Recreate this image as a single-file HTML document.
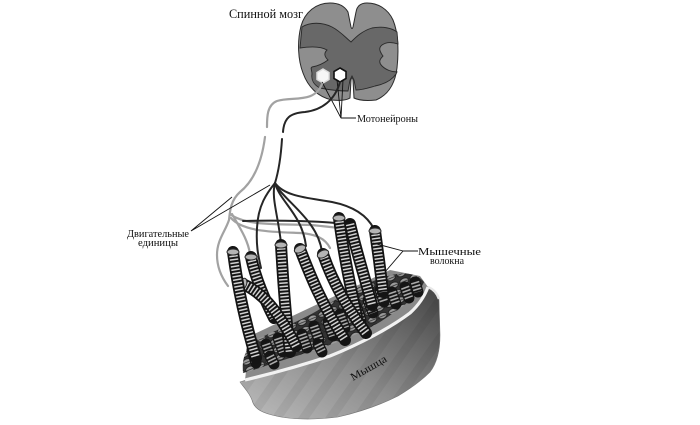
<!DOCTYPE html>
<html><head><meta charset="utf-8"><style>
html,body{margin:0;padding:0;background:#fff;}
svg{display:block;}
.t{font-family:"Liberation Serif","Noto Serif CJK SC",serif;fill:#111;}
.nd{stroke:#262626;stroke-width:2;fill:none;stroke-linecap:round;}
.nl{stroke:#a2a2a2;stroke-width:2.2;fill:none;stroke-linecap:round;}
.lb{stroke:#111;stroke-width:0.9;fill:none;}
.b{stroke:#141414;stroke-width:12;fill:none;stroke-linecap:round;}
.s{stroke:#d2d2d2;stroke-width:8.5;fill:none;stroke-dasharray:1.5 1.9;}
.sb{stroke:#151515;stroke-width:11;fill:none;stroke-linecap:round;}
.ss{stroke:#a9a9a9;stroke-width:8.5;fill:none;stroke-dasharray:1.6 1.8;}
.cap{fill:#b4b4b4;stroke:#2a2a2a;stroke-width:1;}
</style></head><body>
<svg width="700" height="425" viewBox="0 0 700 425" xmlns="http://www.w3.org/2000/svg">
<defs>
<linearGradient id="bg" x1="0.05" y1="0.95" x2="0.95" y2="0.05">
<stop offset="0" stop-color="#b8b8b8"/><stop offset="0.45" stop-color="#8e8e8e"/><stop offset="1" stop-color="#4a4a4a"/>
</linearGradient>
<pattern id="wave" width="22" height="22" patternUnits="userSpaceOnUse" patternTransform="rotate(35)">
<rect width="22" height="22" fill="none"/><rect x="0" y="0" width="9" height="22" fill="#000" opacity="0.06"/>
</pattern>
<pattern id="disc" width="11" height="8" patternUnits="userSpaceOnUse" patternTransform="rotate(-22)">
<rect width="11" height="8" fill="#333"/>
<ellipse cx="5.5" cy="4" rx="4.7" ry="2.9" fill="#9c9c9c" stroke="#1a1a1a" stroke-width="0.9"/>
<line x1="1.5" y1="4.3" x2="9.5" y2="4.3" stroke="#2a2a2a" stroke-width="0.8"/>
</pattern>
</defs>

<!-- Spinal cord -->
<path d="M348,12 C344,5 337,3 330,3 C316,3 305,12 301,26 C297,42 298,60 303,73 C308,87 318,97 332,100 C340,101 347,100 350,98 L351,80 Q352,76 353,80 L354,98 C358,100 366,101 376,100 C388,95 395,84 397,68 C399,50 398,32 393,20 C388,9 378,3 367,3 C361,3 357,6 356,12 L353,27 Q352,30 351,27 Z" fill="#8e8e8e" stroke="#2a2a2a" stroke-width="1"/>
<path d="M302,27 C310,22 322,22 332,27 C340,31 346,38 351,42 C356,37 362,31 372,28 C382,26 392,28 397,32 L398,44 C392,42 386,42 382,45 C378,48 380,52 383,56 C380,59 378,62 382,66 C386,70 392,72 397,72 L396,74 C392,80 385,84 375,86 C368,88 362,90 356,90 L354,80 L352,76 L350,80 L348,91 C340,91 330,90 320,88 C314,85 311,80 312,74 C312,70 310,68 312,67 C318,66 324,63 328,60 C324,56 324,53 327,50 C322,47 313,46 300,48 Z" fill="#686868" stroke="#2a2a2a" stroke-width="0.9"/>
<polygon points="323,69 329,72.5 329,79.5 323,83 317,79.5 317,72.5" fill="#f6f6f6" stroke="#ddd" stroke-width="1.5"/>
<polygon points="340,68 346,71.5 346,78.5 340,82 334,78.5 334,71.5" fill="#fff" stroke="#111" stroke-width="1.6"/>

<text class="t" x="229" y="18" font-size="13" textLength="74" lengthAdjust="spacingAndGlyphs">Спинной мозг</text>

<!-- Motoneuron label lines -->
<path class="lb" d="M322,82 L341,118 L337,80 M341,118 L343,80 M341,118 L356,118"/>
<text class="t" x="357" y="122" font-size="11" textLength="61" lengthAdjust="spacingAndGlyphs">Мотонейроны</text>

<!-- Muscle block -->
<path d="M240,382 C262,375 300,366 332,355 C365,342 395,325 412,310 C420,302 424,293 428,287 C434,289 438,293 439,300 L440,335 C440,350 437,363 430,372 C420,382 408,390 398,396 C380,405 360,412 338,417 C315,420 290,420 272,415 C260,412 254,408 252,400 C249,392 244,388 240,382 Z" fill="url(#bg)" stroke="#777" stroke-width="0.6"/>
<path d="M240,382 C262,375 300,366 332,355 C365,342 395,325 412,310 C420,302 424,293 428,287 C434,289 438,293 439,300 L440,335 C440,350 437,363 430,372 C420,382 408,390 398,396 C380,405 360,412 338,417 C315,420 290,420 272,415 C260,412 254,408 252,400 C249,392 244,388 240,382 Z" fill="url(#wave)"/>
<!-- top surface -->
<path d="M245,380 C270,374 300,366 330,356 C360,344 390,328 410,313 C420,304 425,295 428,287 L420,276 L390,270 L250,336 Z" fill="#8a8a8a"/>
<!-- white rim -->
<path d="M245,380 C270,374 300,366 330,356 C360,344 390,328 410,313 C420,304 425,295 428,287" fill="none" stroke="#f2f2f2" stroke-width="3.2"/>
<path d="M428,287 C433,289 437,293 439,299" fill="none" stroke="#e8e8e8" stroke-width="2.5"/>
<!-- disc bed -->
<path d="M243,373 C242,360 244,350 256,340 C275,330 300,322 325,306 C345,294 365,283 388,276 C402,272 416,272 424,282 C418,296 402,308 380,322 C355,337 320,349 290,358 C270,364 255,370 243,373 Z" fill="url(#disc)"/>
<!-- stubs -->
<g>
<path class="sb" d="M415,282 l3,10"/><path class="ss" d="M415,282 l3,10"/>
<path class="sb" d="M405,287 l4,11"/><path class="ss" d="M405,287 l4,11"/>
<path class="sb" d="M392,292 l4,12"/><path class="ss" d="M392,292 l4,12"/>
<path class="sb" d="M380,290 l4,12"/><path class="ss" d="M380,290 l4,12"/>
<path class="sb" d="M368,300 l5,13"/><path class="ss" d="M368,300 l5,13"/>
<path class="sb" d="M356,306 l5,14"/><path class="ss" d="M356,306 l5,14"/>
<path class="sb" d="M340,314 l5,14"/><path class="ss" d="M340,314 l5,14"/>
<path class="sb" d="M328,322 l5,14"/><path class="ss" d="M328,322 l5,14"/>
<path class="sb" d="M314,326 l5,14"/><path class="ss" d="M314,326 l5,14"/>
<path class="sb" d="M302,334 l5,14"/><path class="ss" d="M302,334 l5,14"/>
<path class="sb" d="M278,338 l5,14"/><path class="ss" d="M278,338 l5,14"/>
<path class="sb" d="M266,344 l5,14"/><path class="ss" d="M266,344 l5,14"/>
<path class="sb" d="M252,350 l4,13"/><path class="ss" d="M252,350 l4,13"/>
<path class="sb" d="M270,356 l4,8"/><path class="ss" d="M270,356 l4,8"/>
<path class="sb" d="M318,344 l4,8"/><path class="ss" d="M318,344 l4,8"/>
</g>

<!-- Nerves -->
<path class="nl" d="M322,84 C314,104 292,96 277,101 C267,105 267,117 267,127"/>
<path class="nl" d="M265,137 C262,160 255,180 240,192 C231,200 230,210 229,220 C225,232 217,240 217,255 C217,268 222,278 228,286"/>
<path class="nl" d="M230,214 C245,226 280,224 310,225 C322,226 332,227 338,228"/>
<path class="nl" d="M231,218 C243,232 275,232 300,233 C315,234 325,238 330,248"/>
<path class="nl" d="M232,214 C240,228 248,240 250,254"/>
<path class="nd" d="M340,82 C335,100 322,110 305,112 C290,113 284,118 283,132"/>
<path class="nd" d="M282,139 C281,155 279,170 275,183"/>
<path class="nd" d="M275,183 C267,193 258,205 257,228 C256,245 258,255 261,268"/>
<path class="nd" d="M275,183 C271,197 278,215 281,243"/>
<path class="nd" d="M275,183 C280,202 302,214 306,246"/>
<path class="nd" d="M275,183 C285,197 310,198 332,202 C352,206 367,215 374,229"/>
<path class="nd" d="M276,186 C290,205 318,222 322,252"/>
<path class="nd" d="M243,221 C280,220 320,221 345,224"/>

<!-- Fibers (back to front) -->
<g>
<path class="b" d="M375,231 L379,260 L383,292"/><path class="s" d="M375,231 L379,260 L383,292"/>
<ellipse class="cap" cx="375" cy="231" rx="6" ry="3"/>
<path class="b" d="M350,224 C356,250 364,275 372,305"/><path class="s" d="M350,224 C356,250 364,275 372,305"/>
<path class="b" d="M339,218 C343,250 349,280 358,322"/><path class="s" d="M339,218 C343,250 349,280 358,322"/>
<ellipse class="cap" cx="339" cy="218" rx="6" ry="3"/>
<path class="b" d="M323,254 C332,280 345,305 366,333"/><path class="s" d="M323,254 C332,280 345,305 366,333"/>
<ellipse class="cap" cx="323" cy="254" rx="6" ry="3.5" transform="rotate(-25 323 254)"/>
<path class="b" d="M300,249 C310,275 322,305 345,340"/><path class="s" d="M300,249 C310,275 322,305 345,340"/>
<ellipse class="cap" cx="300" cy="249" rx="6" ry="3.5" transform="rotate(-25 300 249)"/>
<path class="b" d="M281,245 C283,280 286,320 290,352"/><path class="s" d="M281,245 C283,280 286,320 290,352"/>
<ellipse class="cap" cx="281" cy="245" rx="6" ry="3"/>
<path class="b" d="M251,257 C256,280 265,300 274,318"/><path class="s" d="M251,257 C256,280 265,300 274,318"/>
<ellipse class="cap" cx="251" cy="257" rx="6" ry="3"/>
<path class="b" d="M243,284 C260,292 275,305 296,346"/><path class="s" d="M243,284 C260,292 275,305 296,346"/>
<ellipse class="cap" cx="243" cy="284" rx="3.5" ry="6" transform="rotate(20 243 284)"/>
<path class="b" d="M233,252 C238,290 246,325 256,358"/><path class="s" d="M233,252 C238,290 246,325 256,358"/>
<ellipse class="cap" cx="233" cy="252" rx="6" ry="3"/>
</g>

<!-- Motor units label -->
<path class="lb" d="M232,197 L191,231 L270,185"/>
<text class="t" x="127" y="237" font-size="11" textLength="62" lengthAdjust="spacingAndGlyphs">Двигательные</text>
<text class="t" x="138" y="246" font-size="11" textLength="40" lengthAdjust="spacingAndGlyphs">единицы</text>

<!-- Muscle fibers label -->
<path class="lb" d="M373,243 L403,251 L385,272 M403,251 L418,251"/>
<text class="t" x="418" y="255" font-size="11" textLength="63" lengthAdjust="spacingAndGlyphs">Мышечные</text>
<text class="t" x="430" y="264" font-size="11" textLength="34" lengthAdjust="spacingAndGlyphs">волокна</text>

<text class="t" x="353" y="381" font-size="11" transform="rotate(-30 353 381)" textLength="40" lengthAdjust="spacingAndGlyphs">Мышца</text>
</svg>
</body></html>
